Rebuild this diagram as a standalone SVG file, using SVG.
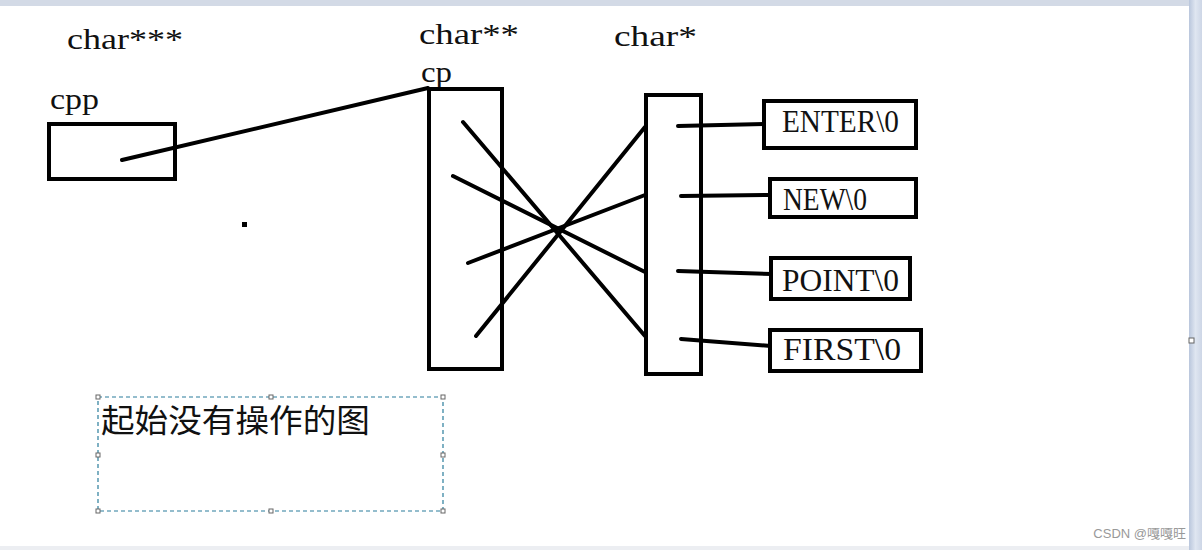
<svg xmlns="http://www.w3.org/2000/svg" width="1202" height="550" viewBox="0 0 1202 550">
<defs>
<linearGradient id="rs" x1="0" y1="0" x2="1" y2="0">
<stop offset="0" stop-color="#b9c6dc"/>
<stop offset="0.5" stop-color="#dfe6f1"/>
<stop offset="1" stop-color="#cdd6e6"/>
</linearGradient>
</defs>
<style>
.box{fill:#fff;stroke:#000;stroke-width:4}
.ln{stroke:#000;stroke-width:4;stroke-linecap:round;fill:none}
.lbl{font-family:"Liberation Serif","DejaVu Serif",serif;font-size:29px;fill:#111}
.str{font-family:"Liberation Serif","DejaVu Serif",serif;font-size:32px;fill:#111}
.cjk{font-family:"Noto Sans CJK SC",sans-serif;font-size:32px;fill:#111}
.hd{fill:#fff;stroke:#666;stroke-width:1}
</style>
<rect x="0" y="0" width="1202" height="550" fill="#fff"/>
<rect x="0" y="0" width="1202" height="6" fill="#d3dae6"/>
<rect x="1189" y="0" width="13" height="550" fill="url(#rs)"/>
<rect x="0" y="546" width="1189" height="4" fill="#eceef2"/>
<rect x="1189" y="338" width="5" height="5" class="hd"/>

<g id="connectors">
<line class="ln" x1="122" y1="160" x2="428" y2="88"/>
<line class="ln" x1="463" y1="122" x2="645" y2="336"/>
<line class="ln" x1="453" y1="176" x2="645" y2="272"/>
<line class="ln" x1="468" y1="263" x2="645" y2="195"/>
<line class="ln" x1="476" y1="336" x2="645" y2="127"/>
<line class="ln" x1="678" y1="126" x2="765" y2="124"/>
<line class="ln" x1="681" y1="196" x2="770" y2="195"/>
<line class="ln" x1="678" y1="271" x2="772" y2="274"/>
<line class="ln" x1="681" y1="339" x2="771" y2="346"/>
</g>

<g id="cpp">
<text class="lbl" x="67" y="49" textLength="116" lengthAdjust="spacingAndGlyphs">char***</text>
<text class="lbl" x="50" y="109" textLength="49" lengthAdjust="spacingAndGlyphs">cpp</text>
<rect class="box" x="49" y="124" width="126" height="55" fill="none" style="fill:none"/>
</g>

<g id="cp">
<text class="lbl" x="419" y="44" textLength="100" lengthAdjust="spacingAndGlyphs">char**</text>
<text class="lbl" x="421" y="82" textLength="31" lengthAdjust="spacingAndGlyphs">cp</text>
<rect class="box" x="429" y="89" width="73" height="280" style="fill:none"/>
</g>

<g id="charptr">
<text class="lbl" x="614" y="46" textLength="83" lengthAdjust="spacingAndGlyphs">char*</text>
<rect class="box" x="646" y="95" width="55" height="279" style="fill:none"/>
</g>

<g id="enter">
<rect class="box" x="764" y="101" width="152" height="47"/>
<text class="str" x="782" y="132" textLength="117" lengthAdjust="spacingAndGlyphs">ENTER\0</text>
</g>
<g id="new">
<rect class="box" x="770" y="179" width="146" height="38"/>
<text class="str" x="783" y="210" textLength="84" lengthAdjust="spacingAndGlyphs">NEW\0</text>
</g>
<g id="point">
<rect class="box" x="771" y="258" width="139" height="41"/>
<text class="str" x="782" y="291" textLength="117" lengthAdjust="spacingAndGlyphs">POINT\0</text>
</g>
<g id="first">
<rect class="box" x="770" y="330" width="151" height="41"/>
<text class="str" x="783" y="360" textLength="118" lengthAdjust="spacingAndGlyphs">FIRST\0</text>
</g>

<rect x="242" y="222" width="5" height="5" fill="#000"/>

<g id="caption">
<rect x="98" y="397" width="345" height="114" fill="none" stroke="#2a7d9c" stroke-width="1.2" stroke-dasharray="4,3"/>
<rect class="hd" x="96" y="395" width="4" height="4"/>
<rect class="hd" x="269" y="395" width="4" height="4"/>
<rect class="hd" x="441" y="395" width="4" height="4"/>
<rect class="hd" x="96" y="453" width="4" height="4"/>
<rect class="hd" x="441" y="453" width="4" height="4"/>
<rect class="hd" x="96" y="509" width="4" height="4"/>
<rect class="hd" x="269" y="509" width="4" height="4"/>
<rect class="hd" x="441" y="509" width="4" height="4"/>
<text class="cjk" x="101" y="432" textLength="269" lengthAdjust="spacingAndGlyphs">起始没有操作的图</text>
</g>

<text x="1186" y="538" text-anchor="end" font-family="Liberation Sans, Noto Sans CJK SC, sans-serif" font-size="13" fill="#999">CSDN @嘎嘎旺</text>
</svg>
